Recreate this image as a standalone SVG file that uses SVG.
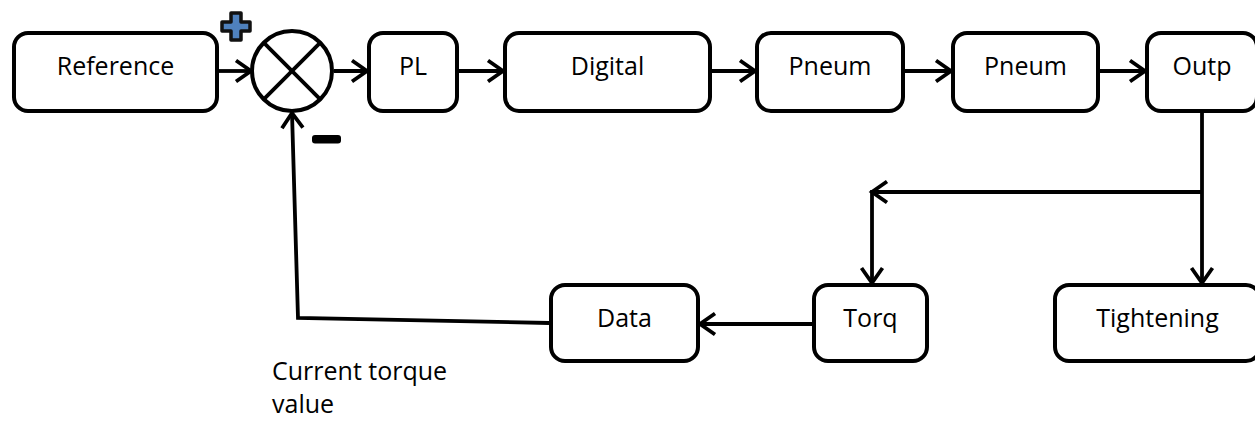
<svg xmlns="http://www.w3.org/2000/svg" width="1255" height="421" viewBox="0 0 1255 421">
<style>
.box{fill:#fff;stroke:#000;stroke-width:4}
.lbl{font-family:"Open Sans","Noto Sans",sans-serif;font-size:25px;fill:#000;text-anchor:middle}
.ln{fill:none;stroke:#000;stroke-width:3.8}
</style>
<defs>
<marker id="ah" markerUnits="userSpaceOnUse" markerWidth="26" markerHeight="26" viewBox="0 0 26 26" refX="21" refY="13" orient="auto">
<path d="M6,2.5 L21,13 L6,23.5" fill="none" stroke="#000" stroke-width="3.8"/>
</marker>
</defs>
<rect width="1255" height="421" fill="#fff"/>
<g id="connectors">
<line class="ln" x1="219" y1="71" x2="251" y2="71" marker-end="url(#ah)"/>
<line class="ln" x1="334" y1="71" x2="367" y2="71" marker-end="url(#ah)"/>
<line class="ln" x1="459" y1="71" x2="503" y2="71" marker-end="url(#ah)"/>
<line class="ln" x1="712" y1="71" x2="755" y2="71" marker-end="url(#ah)"/>
<line class="ln" x1="905" y1="71" x2="951" y2="71" marker-end="url(#ah)"/>
<line class="ln" x1="1100" y1="71" x2="1145" y2="71" marker-end="url(#ah)"/>
<line class="ln" x1="1202" y1="111" x2="1202" y2="283" marker-end="url(#ah)"/>
<line class="ln" x1="1203" y1="192" x2="872" y2="192" marker-end="url(#ah)"/>
<line class="ln" x1="872" y1="190" x2="872" y2="283" marker-end="url(#ah)"/>
<line class="ln" x1="812" y1="324" x2="700" y2="324" marker-end="url(#ah)"/>
<polyline class="ln" points="549,323 298,318 292,113" marker-end="url(#ah)"/>
</g>
<g id="reference">
<rect class="box" x="14" y="33" width="203" height="78" rx="14"/>
<text class="lbl" x="115.5" y="75">Reference</text>
</g>
<g id="sum">
<circle cx="292" cy="71" r="40" fill="#fff" stroke="#000" stroke-width="4"/>
<line class="ln" x1="263.7" y1="42.7" x2="320.3" y2="99.3"/>
<line class="ln" x1="320.3" y1="42.7" x2="263.7" y2="99.3"/>
<path d="M231,13 h10 v9 h9 v9 h-9 v9 h-10 v-9 h-9 v-9 h9 z" fill="#4f81bd" stroke="#111" stroke-width="3.5" stroke-linejoin="round"/>
<rect x="312" y="135" width="29" height="8.5" rx="3" fill="#000"/>
</g>
<g id="pl">
<rect class="box" x="369" y="33" width="88" height="78" rx="14"/>
<text class="lbl" x="413" y="75">PL</text>
</g>
<g id="digital">
<rect class="box" x="505" y="33" width="205" height="78" rx="14"/>
<text class="lbl" x="607.5" y="75">Digital</text>
</g>
<g id="pneum1">
<rect class="box" x="757" y="33" width="146" height="78" rx="14"/>
<text class="lbl" x="830" y="75">Pneum</text>
</g>
<g id="pneum2">
<rect class="box" x="953" y="33" width="145" height="78" rx="14"/>
<text class="lbl" x="1025.5" y="75">Pneum</text>
</g>
<g id="outp">
<rect class="box" x="1147" y="33" width="110" height="78" rx="14"/>
<text class="lbl" x="1202" y="75">Outp</text>
</g>
<g id="data">
<rect class="box" x="551" y="285" width="147" height="76" rx="14"/>
<text class="lbl" x="624.5" y="327">Data</text>
</g>
<g id="torq">
<rect class="box" x="814" y="285" width="113" height="76" rx="14"/>
<text class="lbl" x="870.5" y="327">Torq</text>
</g>
<g id="tightening">
<rect class="box" x="1055" y="285" width="205" height="76" rx="14"/>
<text class="lbl" x="1157.5" y="327">Tightening</text>
</g>
<g id="note">
<text class="lbl" style="text-anchor:start" x="272" y="380">Current torque</text>
<text class="lbl" style="text-anchor:start" x="272" y="413">value</text>
</g>
</svg>
